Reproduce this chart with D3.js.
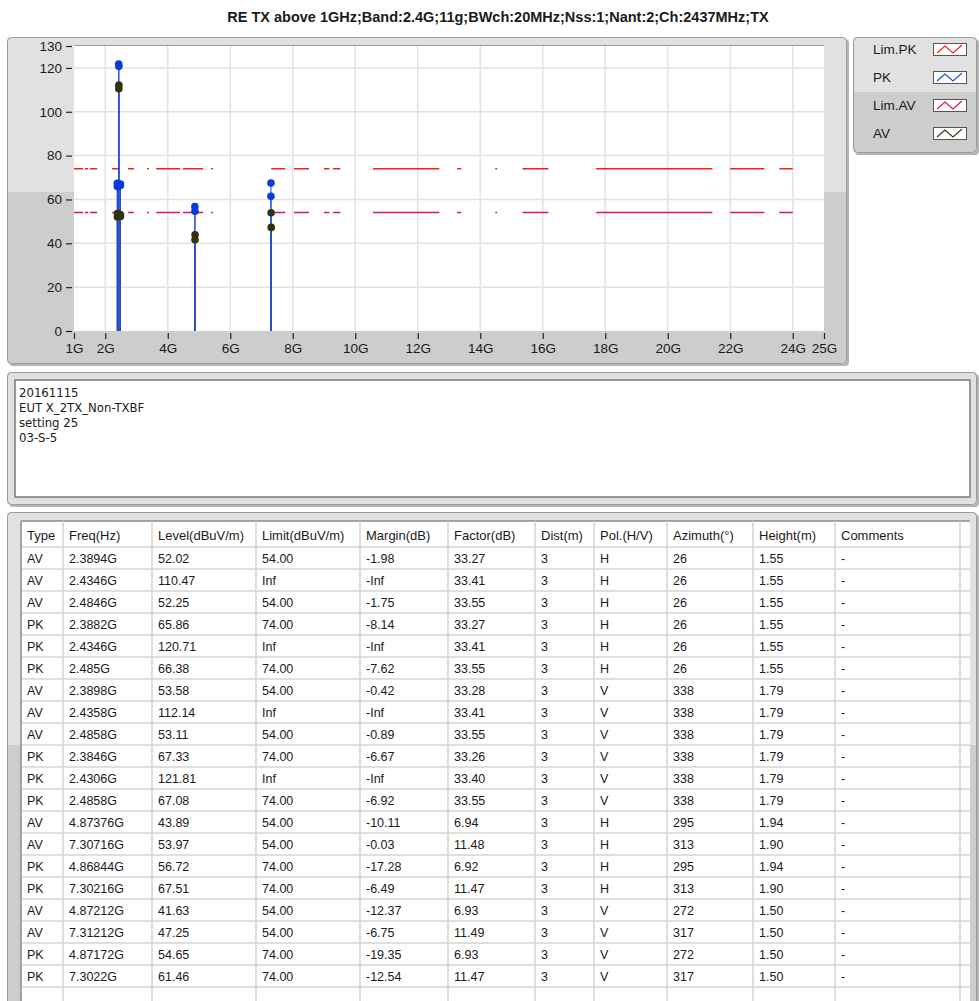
<!DOCTYPE html>
<html>
<head>
<meta charset="utf-8">
<script src="https://cdn.jsdelivr.net/npm/d3@7"></script>
<style>
  body { margin: 0; background: #ffffff; }
  svg text { font-family: "Liberation Sans", Arial, sans-serif; fill: #1a1a1a; }
</style>
</head>
<body>
<div id="chart"></div>
<script>
// ---- data ----
var title = "RE TX above 1GHz;Band:2.4G;11g;BWch:20MHz;Nss:1;Nant:2;Ch:2437MHz;TX";
var notes = ["20161115", "EUT X_2TX_Non-TXBF", "setting 25", "03-S-5"];

var columns = ["Type", "Freq(Hz)", "Level(dBuV/m)", "Limit(dBuV/m)", "Margin(dB)", "Factor(dB)",
               "Dist(m)", "Pol.(H/V)", "Azimuth(\u00b0)", "Height(m)", "Comments"];

var types    = ["AV","AV","AV","PK","PK","PK","AV","AV","AV","PK","PK","PK","AV","AV","PK","PK","AV","AV","PK","PK"];
var freqs    = ["2.3894G","2.4346G","2.4846G","2.3882G","2.4346G","2.485G","2.3898G","2.4358G","2.4858G","2.3846G",
                "2.4306G","2.4858G","4.87376G","7.30716G","4.86844G","7.30216G","4.87212G","7.31212G","4.87172G","7.3022G"];
var levels   = [52.02,110.47,52.25,65.86,120.71,66.38,53.58,112.14,53.11,67.33,121.81,67.08,43.89,53.97,56.72,67.51,41.63,47.25,54.65,61.46];
var limits   = ["54.00","Inf","54.00","74.00","Inf","74.00","54.00","Inf","54.00","74.00","Inf","74.00",
                "54.00","54.00","74.00","74.00","54.00","54.00","74.00","74.00"];
var margins  = ["-1.98","-Inf","-1.75","-8.14","-Inf","-7.62","-0.42","-Inf","-0.89","-6.67","-Inf","-6.92",
                "-10.11","-0.03","-17.28","-6.49","-12.37","-6.75","-19.35","-12.54"];
var factors  = ["33.27","33.41","33.55","33.27","33.41","33.55","33.28","33.41","33.55","33.26","33.40","33.55",
                "6.94","11.48","6.92","11.47","6.93","11.49","6.93","11.47"];
var dists    = ["3","3","3","3","3","3","3","3","3","3","3","3","3","3","3","3","3","3","3","3"];
var pols     = ["H","H","H","H","H","H","V","V","V","V","V","V","H","H","H","H","V","V","V","V"];
var azimuths = ["26","26","26","26","26","26","338","338","338","338","338","338","295","313","295","313","272","317","272","317"];
var heights  = ["1.55","1.55","1.55","1.55","1.55","1.55","1.79","1.79","1.79","1.79","1.79","1.79",
                "1.94","1.90","1.94","1.90","1.50","1.50","1.50","1.50"];
var comments = ["-","-","-","-","-","-","-","-","-","-","-","-","-","-","-","-","-","-","-","-"];

// limit lines (dBuV/m) spanning 1G..24G
var limitStartGHz = 1, limitEndGHz = 24;
var limPK = 74, limAV = 54;

// axis ticks
var yTicks = [0, 20, 40, 60, 80, 100, 120, 130];
var xTicksGHz = [1, 2, 4, 6, 8, 10, 12, 14, 16, 18, 20, 22, 24, 25];

// the instrument draws the limit with a broken dash style; on/off breakpoints in GHz
var limitDashGHz = [1.0,1.29, 1.35,1.45, 1.51,1.74, 2.22,2.41, 2.73,2.92, 3.34,3.40, 3.63,4.39,
                    4.49,5.13, 5.39,5.45, 7.31,7.76, 8.04,8.52, 9.0,9.17, 9.29,9.52, 10.57,12.69,
                    13.26,13.39, 14.48,14.54, 15.35,16.18, 17.71,21.43, 22.0,23.09, 23.57,24.0];

var legendNames = ["Lim.PK", "PK", "Lim.AV", "AV"];
var colors = { "Lim.PK": "#ff1a1a", "PK": "#1f4fe0", "Lim.AV": "#e0106a", "AV": "#3a3a12" };

// ---- page ----
var svg = d3.select("#chart").append("svg")
    .attr("width", 979)
    .attr("height", 1001);

// title
svg.append("text")
    .attr("x", 498).attr("y", 22)
    .attr("text-anchor", "middle")
    .style("font-size", "14.5px")
    .style("font-weight", "bold")
    .text(title);

// draws a grey LabVIEW-ish panel, two tone
function panel(x, y, w, h, split) {
  var g = svg.append("g");
  g.append("rect").attr("x", x + 2).attr("y", y + 2).attr("width", w).attr("height", h)
    .attr("rx", 4).attr("fill", "#b4b4b4");
  g.append("rect").attr("x", x).attr("y", y).attr("width", w).attr("height", h)
    .attr("rx", 4).attr("fill", "#e1e1e1");
  if (split) {
    g.append("rect").attr("x", x + 1).attr("y", split).attr("width", w - 2).attr("height", y + h - split - 1)
      .attr("fill", "#cdcdcd");
  }
  g.append("rect").attr("x", x + 0.5).attr("y", y + 0.5).attr("width", w - 1).attr("height", h - 1)
    .attr("rx", 4).attr("fill", "none").attr("stroke", "#9a9a9a");
  return g;
}

// ---- graph ----
panel(7, 37, 840, 327, 192);

var x = d3.scaleLinear().domain([1e9, 25e9]).range([74, 824]);
var y = d3.scaleLinear().domain([0, 130]).range([331, 46]);

svg.append("rect")
    .attr("x", x(1e9)).attr("y", y(130))
    .attr("width", x(25e9) - x(1e9)).attr("height", y(0) - y(130))
    .attr("fill", "#ffffff");

// grid
var grid = svg.append("g").attr("stroke", "#e2e2e2").attr("stroke-width", 1.5);
grid.selectAll(".gx").data(xTicksGHz.filter(function(d) { return d > 1 && d < 25; }))
  .enter().append("line")
    .attr("x1", function(d) { return x(d * 1e9); }).attr("x2", function(d) { return x(d * 1e9); })
    .attr("y1", y(130)).attr("y2", y(0));
grid.selectAll(".gy").data(yTicks.filter(function(d) { return d > 0 && d < 130; }))
  .enter().append("line")
    .attr("x1", x(1e9)).attr("x2", x(25e9))
    .attr("y1", function(d) { return y(d); }).attr("y2", function(d) { return y(d); });

// plot frame edge
svg.append("line").attr("x1", x(1e9)).attr("x2", x(25e9)).attr("y1", y(130) - 0.5).attr("y2", y(130) - 0.5)
    .attr("stroke", "#9c9c9c");

// axes
var yAxis = svg.append("g")
    .attr("transform", "translate(" + (x(1e9) - 2) + ",0)")
    .call(d3.axisLeft(y).tickValues(yTicks).tickSize(6).tickPadding(4));
var xAxis = svg.append("g")
    .attr("transform", "translate(0," + (y(0) + 2) + ")")
    .call(d3.axisBottom(x).tickValues(xTicksGHz.map(function(d) { return d * 1e9; }))
      .tickSize(6).tickPadding(4).tickFormat(function(d) { return Math.round(d / 1e9) + "G"; }));
[yAxis, xAxis].forEach(function(a) {
  a.select(".domain").remove();
  a.selectAll(".tick line").attr("stroke", "#222").attr("stroke-width", 1.2);
  a.selectAll(".tick text").style("font-size", "13.5px").attr("fill", "#1c1420");
});

// limit lines with the broken dash style
var dash = [];
for (var i = 1; i < limitDashGHz.length; i++) {
  dash.push(x(limitDashGHz[i] * 1e9) - x(limitDashGHz[i - 1] * 1e9));
}
[["Lim.PK", limPK], ["Lim.AV", limAV]].forEach(function(l) {
  svg.append("line")
      .attr("x1", x(limitStartGHz * 1e9)).attr("x2", x(limitEndGHz * 1e9))
      .attr("y1", y(l[1])).attr("y2", y(l[1]))
      .attr("stroke", colors[l[0]]).attr("stroke-width", 1.5)
      .attr("stroke-dasharray", dash.join(","));
});

// measurements
var points = types.map(function(t, i) {
  return { type: t, f: parseFloat(freqs[i]) * 1e9, v: levels[i] };
});
var av = points.filter(function(d) { return d.type === "AV"; });
var pk = points.filter(function(d) { return d.type === "PK"; });

function stems(data, color) {
  svg.append("g").selectAll("line").data(data).enter().append("line")
      .attr("x1", function(d) { return x(d.f); }).attr("x2", function(d) { return x(d.f); })
      .attr("y1", y(0)).attr("y2", function(d) { return y(d.v); })
      .attr("stroke", color).attr("stroke-width", 1.1);
}
function dots(data, color) {
  svg.append("g").selectAll("circle").data(data).enter().append("circle")
      .attr("cx", function(d) { return x(d.f); })
      .attr("cy", function(d) { return y(d.v); })
      .attr("r", 3.8)
      .attr("fill", color);
}
stems(av, colors["AV"]);
stems(pk, colors["PK"]);
dots(pk, "#0a3bd6");
dots(av, "#33330a");

// ---- legend ----
panel(853, 37, 124, 116, 92);
var leg = svg.append("g").selectAll("g").data(legendNames).enter().append("g")
    .attr("transform", function(d, i) { return "translate(0," + (43 + i * 28) + ")"; });
leg.append("text").attr("x", 873).attr("y", 11).style("font-size", "13.5px").text(function(d) { return d; });
leg.append("rect").attr("x", 933.5).attr("y", 0.5).attr("width", 33).attr("height", 12)
    .attr("fill", "#fff").attr("stroke", "#555");
leg.append("polyline")
    .attr("points", "937,10 945,3 953,10 962,2")
    .attr("fill", "none").attr("stroke-width", 1.2)
    .attr("stroke", function(d) { return colors[d]; });

// ---- notes box ----
panel(7, 372, 970, 133, null);
svg.append("rect").attr("x", 15).attr("y", 380).attr("width", 955).attr("height", 117)
    .attr("fill", "#fff").attr("stroke", "#7a7a7a").attr("stroke-width", 1.5);
svg.append("g").selectAll("text").data(notes).enter().append("text")
    .attr("x", 19).attr("y", function(d, i) { return 397 + i * 15; })
    .style("font-family", "'Liberation Sans Narrow', 'DejaVu Sans Condensed', sans-serif")
    .style("font-size", "13px")
    .text(function(d) { return d; });

// ---- results table ----
panel(7, 512, 970, 495, 745);
var colX = [21, 63, 152, 256, 360, 448, 535, 594, 667, 753, 835, 960];
var headTop = 521, headBottom = 547, rowH = 22;
var nRows = types.length + 1;
var tableBottom = 1001;

svg.append("rect").attr("x", 21).attr("y", headTop).attr("width", 949).attr("height", tableBottom - headTop)
    .attr("fill", "#fff");
svg.append("line").attr("x1", 21).attr("x2", 970).attr("y1", headTop).attr("y2", headTop).attr("stroke", "#8a8a8a").attr("stroke-width", 1.5);
svg.append("line").attr("x1", 21).attr("x2", 21).attr("y1", headTop).attr("y2", tableBottom).attr("stroke", "#8a8a8a").attr("stroke-width", 1.5);

var rowLines = d3.range(nRows).map(function(i) { return headBottom + i * rowH; });
svg.append("g").selectAll("line").data(rowLines).enter().append("line")
    .attr("x1", 22).attr("x2", 970)
    .attr("y1", function(d) { return d; }).attr("y2", function(d) { return d; })
    .attr("stroke", "#d4d4d4").attr("stroke-width", 1.5);
svg.append("g").selectAll("line").data(colX.slice(1)).enter().append("line")
    .attr("x1", function(d) { return d; }).attr("x2", function(d) { return d; })
    .attr("y1", headTop).attr("y2", tableBottom)
    .attr("stroke", "#d4d4d4").attr("stroke-width", 1.5);

svg.append("g").selectAll("text").data(columns).enter().append("text")
    .attr("x", function(d, i) { return colX[i] + 6; })
    .attr("y", 540)
    .style("font-size", "13px")
    .text(function(d) { return d; });

var rows = types.map(function(t, i) {
  return [t, freqs[i], levels[i].toFixed(2), limits[i], margins[i], factors[i],
          dists[i], pols[i], azimuths[i], heights[i], comments[i]];
});
svg.append("g").selectAll("g").data(rows).enter().append("g")
    .attr("transform", function(d, i) { return "translate(0," + (headBottom + i * rowH) + ")"; })
  .selectAll("text").data(function(d) { return d; }).enter().append("text")
    .attr("x", function(d, i) { return colX[i] + 6; })
    .attr("y", 16)
    .style("font-size", "12.5px")
    .text(function(d) { return d; });
</script>
</body>
</html>
